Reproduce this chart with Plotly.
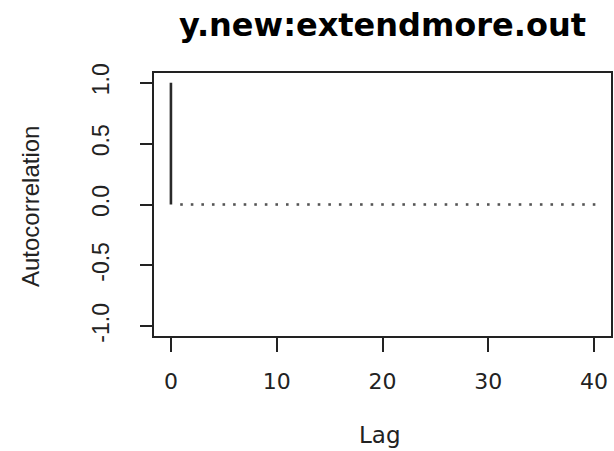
import plotly.graph_objects as go

# ACF data: lag and autocorrelation
lags = list(range(0, 41))
acf_values = [1.0] + [0.0] * 40
x_ticks = [0, 10, 20, 30, 40]
y_ticks = [-1.0, -0.5, 0.0, 0.5, 1.0]
y_tick_labels = ["-1.0", "-0.5", "0.0", "0.5", "1.0"]
title_text = "y.new:extendmore.out"
x_label = "Lag"
y_label = "Autocorrelation"

# spikes from 0 to acf value (type "h")
sx, sy = [], []
for l, v in zip(lags, acf_values):
    if v != 0:
        sx += [l, l, None]
        sy += [0, v, None]

fig = go.Figure()
fig.add_trace(go.Scatter(x=sx, y=sy, mode="lines",
                         line=dict(color="#2a2a2a", width=2.6),
                         hoverinfo="skip", showlegend=False))
fig.add_trace(go.Scatter(x=lags[1:], y=acf_values[1:], mode="markers",
                         marker=dict(symbol="square", size=2.6, color="#555555",
                                     line=dict(width=0)),
                         showlegend=False))

fig.update_layout(
    width=614, height=451,
    margin=dict(l=154, r=3, t=73, b=115, autoexpand=False),
    paper_bgcolor="white", plot_bgcolor="white",
    title=dict(text=title_text, x=(154 + 611) / 2 / 614, xanchor="center",
               y=1 - 25 / 451, yanchor="middle", yref="container", automargin=False,
               font=dict(family="DejaVu Sans", size=32, color="black", weight="bold")),
    xaxis=dict(range=[-1.6, 41.6], tickvals=x_ticks, ticktext=[str(t) for t in x_ticks],
               automargin=False,
               showgrid=False, zeroline=False, showline=True, mirror=True,
               linecolor="#222222", linewidth=2, ticks="outside", ticklen=14,
               tickwidth=2, tickcolor="#222222", ticklabelstandoff=11,
               tickfont=dict(family="DejaVu Sans", size=22, color="#222222")),
    yaxis=dict(range=[-1.08, 1.08], tickvals=y_ticks, ticktext=y_tick_labels,
               tickangle=-90, automargin=False,
               showgrid=False, zeroline=False, showline=True, mirror=True,
               linecolor="#222222", linewidth=2, ticks="outside", ticklen=12,
               tickwidth=2, tickcolor="#222222", ticklabelstandoff=22,
               tickfont=dict(family="Liberation Sans", size=23, color="#222222")),
    annotations=[
        dict(text=x_label, x=(380 - 154) / 457, y=(336 - 435) / 263,
             xref="paper", yref="paper", xanchor="center", yanchor="middle",
             showarrow=False, font=dict(family="DejaVu Sans", size=23, color="#222222")),
        dict(text=y_label, x=(30 - 154) / 457, y=(336 - 207) / 263,
             xref="paper", yref="paper", xanchor="center", yanchor="middle",
             textangle=-90, showarrow=False,
             font=dict(family="Liberation Sans", size=24, color="#222222")),
    ],
)

fig.write_html("out.html", config={"displayModeBar": False},
               post_script="document.body.style.margin='0';")
